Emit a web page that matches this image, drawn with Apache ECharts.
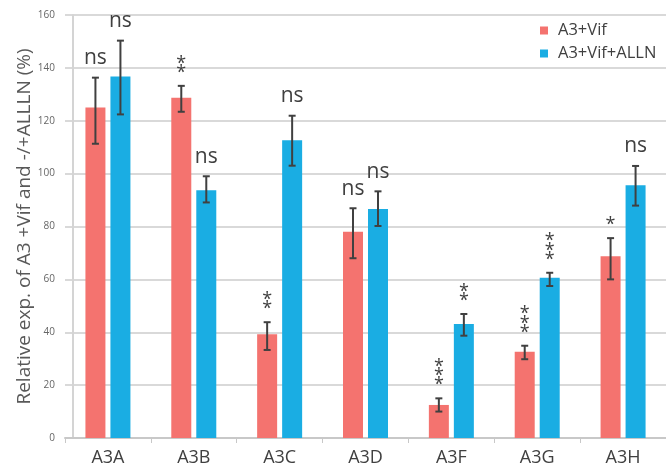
<!DOCTYPE html>
<html>
<head>
<meta charset="utf-8">
<script src="https://cdn.jsdelivr.net/npm/echarts@6/dist/echarts.min.js"></script>
<style>
html,body{margin:0;padding:0;background:#fff;}
#chart{width:666px;height:468px;}
</style>
</head>
<body>
<div id="chart"></div>
<script>
var categories = ['A3A', 'A3B', 'A3C', 'A3D', 'A3F', 'A3G', 'A3H'];
var seriesNames = ['A3+Vif', 'A3+Vif+ALLN'];
var vifValues = [125, 128.7, 39.2, 78, 12.5, 32.6, 68.7];
var vifErrLow = [111.3, 123.4, 33.3, 68, 10, 29.8, 60];
var vifErrHigh = [136.3, 133.2, 43.8, 86.9, 15, 34.9, 75.6];
var vifSig = ['ns', '**', '**', 'ns', '***', '***', '*'];
var allnValues = [136.7, 93.7, 112.6, 86.6, 43.1, 60.6, 95.6];
var allnErrLow = [122.4, 89.1, 103, 80.2, 38.7, 57.5, 87.9];
var allnErrHigh = [150.3, 99, 121.9, 93.3, 46.9, 62.5, 102.9];
var allnSig = ['ns', 'ns', 'ns', 'ns', '**', '***', 'ns'];
var yTicks = [0, 20, 40, 60, 80, 100, 120, 140, 160];

var FONT = "'Open Sans', 'Noto Sans', sans-serif";
var RED = '#F4736F';
var BLUE = '#1AADE3';
var DARK = '#404040';

function errData(low, high, sig) {
  return categories.map(function (c, i) { return [i, low[i], high[i], sig[i]]; });
}

function makeRender(dx, sigs) {
  return function (params, api) {
    var i = api.value(0);
    var lo = api.coord([i, api.value(1)]);
    var hi = api.coord([i, api.value(2)]);
    var x = lo[0] + dx;
    var cap = 3.5;
    var st = { stroke: DARK, lineWidth: 2 };
    var children = [
      { type: 'line', shape: { x1: x, y1: lo[1], x2: x, y2: hi[1] }, style: st },
      { type: 'line', shape: { x1: x - cap, y1: lo[1], x2: x + cap, y2: lo[1] }, style: st },
      { type: 'line', shape: { x1: x - cap, y1: hi[1], x2: x + cap, y2: hi[1] }, style: st }
    ];
    var s = sigs[params.dataIndex];
    if (s === 'ns') {
      children.push({ type: 'text', x: x, y: hi[1] - 9,
        style: { text: 'ns', font: '21px ' + FONT, fill: DARK, align: 'center', verticalAlign: 'bottom' } });
    } else {
      for (var k = 0; k < s.length; k++) {
        children.push({ type: 'text', x: x, y: hi[1] - 4 - k * 9.3,
          style: { text: '*', font: '18px ' + FONT, fill: DARK, align: 'center', verticalAlign: 'bottom' } });
      }
    }
    return { type: 'group', children: children };
  };
}

var chart = echarts.init(document.getElementById('chart'));
chart.setOption({
  animation: false,
  backgroundColor: '#fff',
  grid: { left: 65, right: -10, top: 15, bottom: 30 },
  legend: {
    orient: 'vertical', left: 535, top: 17, itemWidth: 8, itemHeight: 8, itemGap: 6,
    data: seriesNames.map(function (n) { return { name: n, icon: 'rect' }; }),
    textStyle: { fontFamily: FONT, fontSize: 16.5, color: DARK, padding: [0, 0, 0, 5] }
  },
  xAxis: {
    type: 'category', data: categories,
    axisLine: { lineStyle: { color: '#c8c8c8', width: 2 } },
    axisTick: { show: true, length: 5, lineStyle: { color: '#c8c8c8', width: 1 } },
    axisLabel: { fontFamily: FONT, fontSize: 18, color: DARK, margin: 11 }
  },
  yAxis: {
    type: 'value', min: 0, max: 160, interval: 20, offset: -8,
    name: 'Relative exp. of A3 +Vif and -/+ALLLN (%)', nameLocation: 'middle', nameGap: 39,
    nameMoveOverlap: false,
    nameTextStyle: { fontFamily: FONT, fontSize: 19, color: '#595959' },
    axisLine: { show: true, lineStyle: { color: '#d4d4d4', width: 2 } },
    axisTick: { show: false },
    axisLabel: { fontFamily: FONT, fontSize: 10, color: '#666666', margin: 18,
      formatter: function (v) { return yTicks.indexOf(v) >= 0 ? String(v) : ''; } },
    splitLine: { lineStyle: { color: '#d9d9d9', width: 2 } }
  },
  series: [
    { name: seriesNames[0], type: 'bar', data: vifValues, barWidth: 20, barGap: '25%', itemStyle: { color: RED } },
    { name: seriesNames[1], type: 'bar', data: allnValues, barWidth: 20, barGap: '25%', itemStyle: { color: BLUE } },
    { type: 'custom', data: errData(vifErrLow, vifErrHigh, vifSig), renderItem: makeRender(-12.5, vifSig), z: 5,
      encode: { x: 0, y: [1, 2] }, silent: true },
    { type: 'custom', data: errData(allnErrLow, allnErrHigh, allnSig), renderItem: makeRender(12.5, allnSig), z: 5,
      encode: { x: 0, y: [1, 2] }, silent: true }
  ]
});
</script>
</body>
</html>
